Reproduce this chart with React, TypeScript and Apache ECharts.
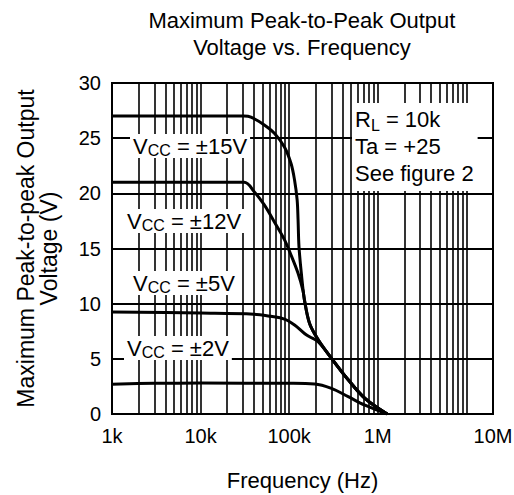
import React, { useEffect, useRef } from "react";
import * as echarts from "echarts";

const FONT = "'Liberation Sans', Arial, sans-serif";

// Axis ticks
const xTickValues = [1e3, 1e4, 1e5, 1e6, 2e7];
const xTickTexts = ["1k", "10k", "100k", "1M", "10M"];
const gridDecades = [1e3, 1e4, 1e5, 1e6];
const gridSteps = [2, 3, 4, 5, 6, 7, 8, 9, 10];

// Vcc = ±15V
const v15Freq = [1e3, 3.1e4, 3.7e4, 5.24e4, 6.81e4, 8.84e4, 1.05e5, 1.15e5, 1.23e5, 1.26e5, 1.29e5, 1.37e5, 1.49e5, 1.7e5, 2.12e5, 3.0e5, 4.64e5, 7.17e5, 1.28e6];
const v15Volt = [27.0, 27.0, 26.9, 26.2, 25.45, 24.2, 22.7, 21.2, 19.4, 17.6, 15.2, 12.8, 10.3, 8.2, 6.75, 5.05, 3.1, 1.42, 0];

// Vcc = ±12V
const v12Freq = [1e3, 3.1e4, 4.03e4, 5.24e4, 6.81e4, 8.84e4, 1.05e5, 1.26e5, 1.43e5, 1.49e5, 1.7e5, 2.12e5, 3.0e5, 4.64e5, 7.17e5, 1.28e6];
const v12Volt = [21.0, 21.0, 20.15, 18.95, 17.4, 15.8, 14.4, 12.75, 11.2, 10.3, 8.2, 6.75, 5.05, 3.1, 1.42, 0];

// Vcc = ±5V
const v5Freq = [1e3, 1e4, 4e4, 6.2e4, 8.84e4, 1.15e5, 1.49e5, 1.7e5, 2.12e5, 3.0e5, 4.64e5, 7.17e5, 1.28e6];
const v5Volt = [9.25, 9.15, 9.05, 8.85, 8.6, 8.07, 7.3, 7.0, 6.55, 5.05, 3.1, 1.42, 0];

// Vcc = ±2V
const v2Freq = [1e3, 3e3, 1e4, 1e5, 1.94e5, 3.0e5, 4.64e5, 7.17e5, 1.28e6];
const v2Volt = [2.7, 2.78, 2.8, 2.78, 2.73, 2.33, 1.57, 0.8, 0];

const zip = (f: number[], v: number[]) => f.map((x, i) => [x, v[i]]);

export default function App() {
  const ref = useRef<HTMLDivElement>(null);
  useEffect(() => {
    if (!ref.current) return;
    document.body.style.margin = "0";
    const chart = echarts.init(ref.current, undefined, { renderer: "svg" });

    const gridFreqs: number[] = [];
    gridDecades.forEach((d) => gridSteps.forEach((s) => gridFreqs.push(d * s)));

    const lineSeries = (name: string, data: number[][], extra: any = {}) => ({
      name,
      type: "line",
      data,
      smooth: 0.35,
      showSymbol: false,
      symbol: "none",
      lineStyle: { color: "#000", width: 3 },
      silent: true,
      z: 5,
      ...extra,
    });

    const rich = {
      a: { fontSize: 22, fontFamily: FONT, lineHeight: 24, color: "#000" },
      s: { fontSize: 16, fontFamily: FONT, lineHeight: 12, verticalAlign: "bottom", color: "#000" },
      b: { fontSize: 22, fontFamily: FONT, lineHeight: 27, color: "#000" },
      bs: { fontSize: 16, fontFamily: FONT, lineHeight: 15, verticalAlign: "bottom", color: "#000" },
    };

    const vccLabel = (txt: string, x: number, y: number) => ({
      type: "text",
      x,
      y,
      z: 100,
      style: {
        text: `{a|V}{s|CC}{a| = ${txt}}`,
        rich,
        align: "left",
        verticalAlign: "middle",
        backgroundColor: "#fff",
        padding: [0, 3],
      },
    });

    chart.setOption({
      animation: false,
      backgroundColor: "#fff",
      title: {
        text: "Maximum Peak-to-Peak Output\nVoltage vs. Frequency",
        left: 302,
        top: 7,
        padding: 0,
        textAlign: "center",
        textStyle: { fontFamily: FONT, fontSize: 22, fontWeight: "normal", color: "#000", lineHeight: 27 },
      },
      grid: {
        left: 112,
        top: 83,
        right: 21,
        bottom: 81,
        show: true,
        borderColor: "#000",
        borderWidth: 2,
        containLabel: false,
        outerBoundsMode: "none",
      },
      xAxis: {
        type: "log",
        logBase: 10,
        min: 1e3,
        max: 2e7,
        name: "Frequency (Hz)",
        nameLocation: "middle",
        nameGap: 55,
        nameTextStyle: { fontFamily: FONT, fontSize: 22, color: "#000" },
        axisLine: { lineStyle: { color: "#000", width: 2 } },
        axisTick: { show: false },
        splitLine: { show: false },
        minorTick: { show: false },
        axisLabel: {
          fontFamily: FONT,
          fontSize: 20,
          color: "#000",
          margin: 12,
          showMaxLabel: true,
          showMinLabel: true,
          formatter: (v: number) => {
            for (let i = 0; i < xTickValues.length; i++) {
              if (Math.abs(Math.log10(v) - Math.log10(xTickValues[i])) < 0.01) return xTickTexts[i];
            }
            return "";
          },
        },
      },
      yAxis: {
        type: "value",
        min: 0,
        max: 30,
        interval: 5,
        name: "Maximum Peak-to-peak Output\nVoltage (V)",
        nameLocation: "middle",
        nameGap: 52,
        nameTextStyle: { fontFamily: FONT, fontSize: 23, color: "#000", lineHeight: 23 },
        axisLine: { show: true, lineStyle: { color: "#000", width: 2 } },
        axisTick: { show: false },
        splitLine: { show: true, lineStyle: { color: "#000", width: 2 } },
        axisLabel: { fontFamily: FONT, fontSize: 20, color: "#000", margin: 11 },
      },
      series: [
        lineSeries("±15V", zip(v15Freq, v15Volt), {
          markLine: {
            silent: true,
            symbol: ["none", "none"],
            label: { show: false },
            lineStyle: { color: "#000", width: 1.6, type: "solid" },
            emphasis: { disabled: true },
            z: 1,
            data: gridFreqs.map((f) => ({ xAxis: f })),
          },
        }),
        lineSeries("±12V", zip(v12Freq, v12Volt)),
        lineSeries("±5V", zip(v5Freq, v5Volt)),
        lineSeries("±2V", zip(v2Freq, v2Volt)),
      ],
      graphic: [
        vccLabel("±15V", 130, 146),
        vccLabel("±12V", 124, 221),
        vccLabel("±5V", 130, 283),
        vccLabel("±2V", 124, 348),
        {
          type: "text",
          x: 352,
          y: 103,
          z: 100,
          style: {
            text: "{b|R}{bs|L}{b| = 10k}\n{b|Ta = +25}\n{b|See figure 2}",
            rich,
            align: "left",
            verticalAlign: "top",
            backgroundColor: "#fff",
            padding: [3, 4, 4, 3],
          },
        },
      ],
    });
    return () => chart.dispose();
  }, []);
  return <div ref={ref} style={{ width: 514, height: 495 }} />;
}
